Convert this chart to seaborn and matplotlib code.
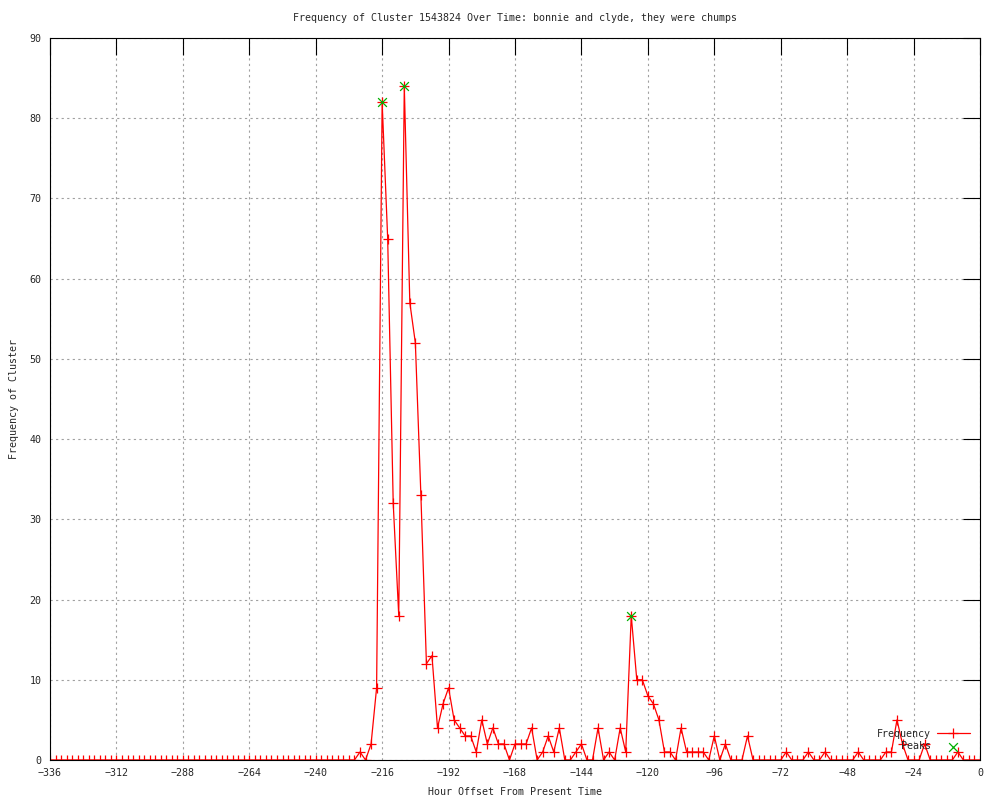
import matplotlib
matplotlib.use("Agg")
import matplotlib.pyplot as plt
import seaborn as sns
import numpy as np
import pandas as pd

# Hours from -336 to 0 in 2-hour steps
hours = list(range(-336, 1, 2))

# Non-zero frequency values (hour -> count)
nonzero = {
    -224: 1, -220: 2, -218: 9, -216: 82, -214: 65, -212: 32, -210: 18,
    -208: 84, -206: 57, -204: 52, -202: 33, -200: 12, -198: 13, -196: 4,
    -194: 7, -192: 9, -190: 5, -188: 4, -186: 3, -184: 3, -182: 1,
    -180: 5, -178: 2, -176: 4, -174: 2, -172: 2, -168: 2, -166: 2,
    -164: 2, -162: 4, -158: 1, -156: 3, -154: 1, -152: 4, -146: 1,
    -144: 2, -138: 4, -134: 1, -130: 4, -128: 1, -126: 18, -124: 10,
    -122: 10, -120: 8, -118: 7, -116: 5, -114: 1, -112: 1, -108: 4,
    -106: 1, -104: 1, -102: 1, -100: 1, -96: 3, -92: 2, -84: 3,
    -70: 1, -62: 1, -56: 1, -44: 1, -34: 1, -32: 1, -30: 5, -28: 2,
    -20: 2, -8: 1,
}
frequency = [nonzero.get(h, 0) for h in hours]

peak_hours = [-216, -208, -126]
peak_values = [82, 84, 18]

x_ticks = list(range(-336, 1, 24))
y_ticks = list(range(0, 91, 10))

title = "Frequency of Cluster 1543824 Over Time: bonnie and clyde, they were chumps"
x_label = "Hour Offset From Present Time"
y_label = "Frequency of Cluster"

df = pd.DataFrame({"hour": hours, "freq": frequency})
peaks_df = pd.DataFrame({"hour": peak_hours, "freq": peak_values})

sns.set_style("white")
plt.rcParams["font.family"] = ["DejaVu Sans Mono", "DejaVu Sans"]
FS = 7.2

fig = plt.figure(figsize=(10, 8), dpi=100)
ax = fig.add_axes([0.05, 0.05, 0.93, 0.9025])

sns.lineplot(data=df, x="hour", y="freq", ax=ax, color="#ff0000", linewidth=0.9,
             marker="+", markersize=7, markeredgewidth=0.9, markeredgecolor="#ff0000",
             label="Frequency", sort=False)
sns.scatterplot(data=peaks_df, x="hour", y="freq", ax=ax, color="#00b000",
                marker="x", s=40, linewidth=0.9, label="Peaks", zorder=5)

ax.set_xlim(-336, 0)
ax.set_ylim(0, 90)
ax.set_xticks(x_ticks)
ax.set_yticks(y_ticks)
ax.tick_params(axis="both", direction="in", length=12, width=0.8, color="black",
               labelsize=FS, top=True, right=True, pad=6)
ax.grid(True, linestyle=(0, (2, 3)), color="#a0a0a0", linewidth=0.8)
for s in ax.spines.values():
    s.set_color("black")
    s.set_linewidth(0.8)
    s.set_visible(True)

ax.set_title(title, fontsize=FS, pad=12)
ax.set_xlabel(x_label, fontsize=FS, labelpad=6)
ax.set_ylabel(y_label, fontsize=FS, labelpad=7.5)

leg = ax.legend(loc="lower right", bbox_to_anchor=(0.989, 0.012), frameon=False,
                markerfirst=False, fontsize=FS, labelspacing=0.25, handlelength=3.3,
                handletextpad=0.6, borderaxespad=0, borderpad=0)

fig.savefig("out.png", dpi=100)
